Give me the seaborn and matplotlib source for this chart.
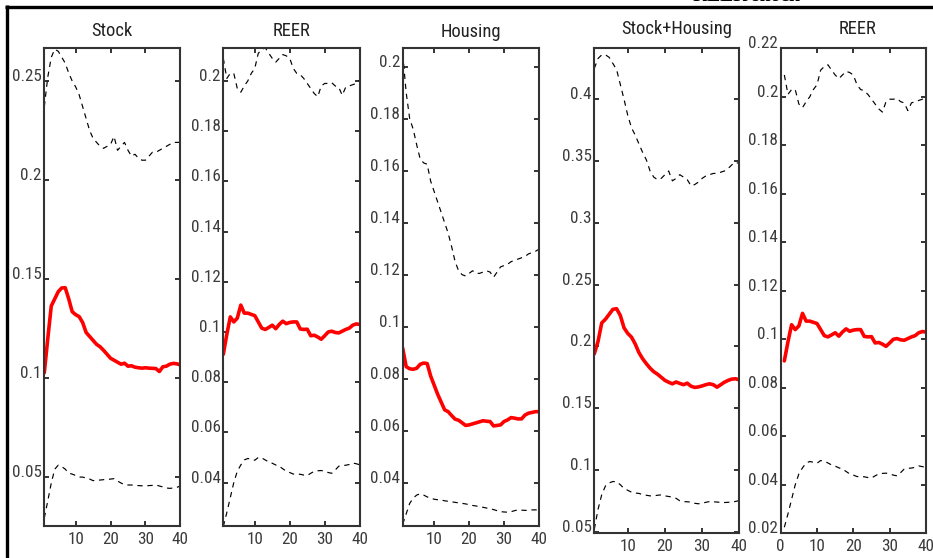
import numpy as np
import pandas as pd
import seaborn as sns
import matplotlib
matplotlib.use("Agg")
import matplotlib.pyplot as plt
from matplotlib import font_manager
from matplotlib.lines import Line2D
from matplotlib.ticker import FuncFormatter, FixedLocator

# ---------------- data: impulse responses over 40 horizons ----------------
horizon = list(range(1, 41))

stock_mid = [0.1027, 0.120, 0.1364, 0.140, 0.1436, 0.1455, 0.1456, 0.140, 0.1335, 0.132,
             0.131, 0.128, 0.123, 0.121, 0.119, 0.117, 0.1158, 0.114, 0.112, 0.110,
             0.109, 0.108, 0.107, 0.1075, 0.106, 0.1062, 0.1055, 0.1052, 0.105, 0.1052,
             0.105, 0.1049, 0.1048, 0.1033, 0.1057, 0.106, 0.107, 0.1074, 0.1072, 0.1066]
stock_hi = [0.237, 0.252, 0.262, 0.266, 0.265, 0.262, 0.259, 0.254, 0.250, 0.247,
            0.243, 0.237, 0.231, 0.225, 0.221, 0.219, 0.217, 0.216, 0.217, 0.218,
            0.222, 0.215, 0.217, 0.219, 0.215, 0.212, 0.213, 0.211, 0.210, 0.210,
            0.212, 0.214, 0.214, 0.215, 0.216, 0.217, 0.218, 0.219, 0.219, 0.219]
stock_lo = [0.0293, 0.038, 0.047, 0.054, 0.056, 0.0553, 0.054, 0.052, 0.0515, 0.0508,
            0.050, 0.050, 0.0495, 0.049, 0.0482, 0.0485, 0.0485, 0.0487, 0.0488, 0.049,
            0.0492, 0.048, 0.047, 0.0462, 0.046, 0.046, 0.0458, 0.0457, 0.0456, 0.0455,
            0.0457, 0.0458, 0.046, 0.0455, 0.045, 0.0445, 0.0443, 0.0445, 0.0448, 0.0455]

reer_mid = [0.0911, 0.099, 0.106, 0.104, 0.1055, 0.1107, 0.1075, 0.1075, 0.107, 0.1065,
            0.104, 0.1015, 0.101, 0.1018, 0.1027, 0.1013, 0.103, 0.1043, 0.1033, 0.1038,
            0.104, 0.104, 0.1012, 0.101, 0.1011, 0.0985, 0.0987, 0.098, 0.0971, 0.0985,
            0.100, 0.1003, 0.0998, 0.0996, 0.1003, 0.101, 0.1015, 0.1027, 0.1032, 0.103]
reer_hi = [0.209, 0.201, 0.203, 0.203, 0.197, 0.1955, 0.198, 0.200, 0.203, 0.205,
           0.211, 0.2125, 0.2132, 0.211, 0.209, 0.2075, 0.209, 0.2105, 0.210, 0.209,
           0.205, 0.203, 0.2025, 0.201, 0.199, 0.197, 0.195, 0.1937, 0.198, 0.199,
           0.199, 0.1993, 0.198, 0.1975, 0.1943, 0.1975, 0.198, 0.1985, 0.199, 0.2004]
reer_lo = [0.0225, 0.028, 0.034, 0.040, 0.0445, 0.047, 0.049, 0.0496, 0.0493, 0.0489,
           0.050, 0.0498, 0.049, 0.0482, 0.0477, 0.047, 0.0465, 0.0455, 0.0445, 0.044,
           0.0434, 0.0434, 0.0433, 0.043, 0.0428, 0.0437, 0.0445, 0.0447, 0.0448, 0.0445,
           0.044, 0.0437, 0.045, 0.0465, 0.0468, 0.0469, 0.0472, 0.0478, 0.0475, 0.0471]

housing_mid = [0.0917, 0.0846, 0.0838, 0.0836, 0.0840, 0.0855, 0.0860, 0.0858, 0.081, 0.0775,
               0.074, 0.071, 0.068, 0.0673, 0.0658, 0.0644, 0.064, 0.063, 0.062, 0.0622,
               0.0626, 0.063, 0.0634, 0.0638, 0.0636, 0.0635, 0.0618, 0.062, 0.0622, 0.0635,
               0.0641, 0.065, 0.0648, 0.0645, 0.0645, 0.066, 0.0667, 0.067, 0.0673, 0.0673]
housing_hi = [0.205, 0.190, 0.180, 0.176, 0.170, 0.1645, 0.163, 0.1625, 0.156, 0.152,
              0.148, 0.144, 0.140, 0.136, 0.1308, 0.125, 0.1215, 0.120, 0.1195, 0.1205,
              0.1215, 0.1205, 0.1205, 0.121, 0.1215, 0.121, 0.119, 0.121, 0.123, 0.1235,
              0.124, 0.125, 0.1255, 0.126, 0.1265, 0.127, 0.128, 0.1285, 0.129, 0.1298]
housing_lo = [0.024, 0.028, 0.032, 0.034, 0.0352, 0.0357, 0.0352, 0.0345, 0.034, 0.0336,
              0.0334, 0.0333, 0.033, 0.0328, 0.0326, 0.0324, 0.0322, 0.032, 0.0318, 0.0315,
              0.0312, 0.031, 0.0307, 0.0305, 0.0302, 0.030, 0.0296, 0.0292, 0.0288, 0.0287,
              0.0286, 0.0288, 0.0292, 0.0295, 0.0294, 0.0293, 0.0294, 0.0295, 0.0295, 0.0295]

sh_mid = [0.194, 0.204, 0.219, 0.222, 0.226, 0.230, 0.2305, 0.225, 0.215, 0.2105,
          0.2075, 0.202, 0.195, 0.190, 0.186, 0.1824, 0.1795, 0.1775, 0.175, 0.1725,
          0.171, 0.1697, 0.1712, 0.170, 0.169, 0.1702, 0.1678, 0.1668, 0.1672, 0.168,
          0.169, 0.1697, 0.169, 0.167, 0.169, 0.171, 0.1725, 0.1735, 0.1738, 0.1729]
sh_hi = [0.425, 0.433, 0.436, 0.436, 0.434, 0.429, 0.424, 0.412, 0.400, 0.387,
         0.377, 0.371, 0.364, 0.357, 0.351, 0.342, 0.337, 0.335, 0.336, 0.339,
         0.342, 0.334, 0.336, 0.339, 0.337, 0.335, 0.330, 0.331, 0.333, 0.336,
         0.338, 0.339, 0.340, 0.340, 0.341, 0.342, 0.344, 0.347, 0.349, 0.348]
sh_lo = [0.052, 0.068, 0.080, 0.087, 0.0895, 0.0906, 0.0905, 0.088, 0.085, 0.0835,
         0.082, 0.0813, 0.081, 0.080, 0.0795, 0.079, 0.079, 0.0795, 0.0798, 0.079,
         0.0785, 0.078, 0.077, 0.075, 0.0744, 0.0742, 0.074, 0.073, 0.0726, 0.073,
         0.0738, 0.0744, 0.0742, 0.074, 0.0737, 0.0736, 0.0738, 0.074, 0.0745, 0.0752]

titles = ["Stock", "REER", "Housing", "Stock+Housing", "REER"]
ytick_values = [
    [0.05, 0.10, 0.15, 0.20, 0.25],
    [0.04, 0.06, 0.08, 0.10, 0.12, 0.14, 0.16, 0.18, 0.20],
    [0.04, 0.06, 0.08, 0.10, 0.12, 0.14, 0.16, 0.18, 0.20],
    [0.05, 0.10, 0.15, 0.20, 0.25, 0.30, 0.35, 0.40],
    [0.02, 0.04, 0.06, 0.08, 0.10, 0.12, 0.14, 0.16, 0.18, 0.20, 0.22],
]
xtick_values = [[10, 20, 30, 40]] * 4 + [[0, 10, 20, 30, 40]]
series = [
    (stock_mid, stock_hi, stock_lo),
    (reer_mid, reer_hi, reer_lo),
    (housing_mid, housing_hi, housing_lo),
    (sh_mid, sh_hi, sh_lo),
    (reer_mid, reer_hi, reer_lo),
]

# ---------------- layout (pixel boxes on a 933x558 canvas) ----------------
W, H = 933, 558
boxes = [  # left, right, top, bottom
    (44.3, 180.3, 48.3, 526.0),
    (223.3, 359.7, 48.3, 526.0),
    (402.7, 539.0, 48.3, 526.0),
    (594.3, 739.3, 48.3, 533.3),
    (780.7, 926.0, 48.3, 533.3),
]
ylims = [(0.0253, 0.2665), (0.0227, 0.2130), (0.0233, 0.2071), (0.0487, 0.4413), (0.02, 0.22)]
xlims = [(1, 40)] * 4 + [(0, 40)]
title_pos = [(112, 36), (291.5, 36), (470.5, 37), (676.5, 34), (858, 34)]

sns.set_style("ticks")

# prefer a narrow sans face for the labels when one is installed
available = {f.name for f in font_manager.fontManager.ttflist}
label_font = "DejaVu Sans"
for cand in ["Liberation Sans Narrow", "Roboto Condensed", "Roboto", "DejaVu Sans"]:
    if cand in available:
        label_font = cand
        break
plt.rcParams["font.family"] = [label_font, "DejaVu Sans"]

AX_COL = "#333333"
TXT_COL = "#3c3c3c"

fig = plt.figure(figsize=(W / 100, H / 100), dpi=100)
fmt = FuncFormatter(lambda v, _: f"{round(v, 4):g}")

for i, ((l, r, t, b), (mid, hi, lo)) in enumerate(zip(boxes, series)):
    ax = fig.add_axes([l / W, 1 - b / H, (r - l) / W, (b - t) / H])
    df = pd.DataFrame({"h": horizon, "mid": mid, "hi": hi, "lo": lo})
    sns.lineplot(data=df, x="h", y="hi", ax=ax, color="black", linewidth=0.85,
                 linestyle=(0, (4.5, 4)))
    sns.lineplot(data=df, x="h", y="lo", ax=ax, color="black", linewidth=0.85,
                 linestyle=(0, (4.5, 4)))
    sns.lineplot(data=df, x="h", y="mid", ax=ax, color="#ff0000", linewidth=2.6)
    ax.set_xlim(*xlims[i])
    ax.set_ylim(*ylims[i])
    ax.xaxis.set_major_locator(FixedLocator(xtick_values[i]))
    ax.yaxis.set_major_locator(FixedLocator(ytick_values[i]))
    ax.yaxis.set_major_formatter(fmt)
    ax.set_xlabel("")
    ax.set_ylabel("")
    for sp in ax.spines.values():
        sp.set_visible(True)
        sp.set_color(AX_COL)
        sp.set_linewidth(1.5)
    ax.tick_params(direction="in", top=True, right=True, length=3.5, width=1.4,
                   color=AX_COL, labelcolor=TXT_COL, labelsize=12.3, pad=2)
    ax.tick_params(axis="x", pad=4)
    for lab in ax.get_yticklabels():
        lab.set_verticalalignment("baseline")
    fig.text(title_pos[i][0] / W, 1 - title_pos[i][1] / H, titles[i],
             ha="center", va="baseline", fontsize=13.3, color="#222222")

# frame around the panel block
fig.add_artist(Line2D([6.5 / W, 6.5 / W], [0, 1 - 5 / H], transform=fig.transFigure,
                      color="black", linewidth=2.4, solid_capstyle="butt"))
fig.add_artist(Line2D([5 / W, 1], [1 - 6.5 / H, 1 - 6.5 / H], transform=fig.transFigure,
                      color="black", linewidth=2.4, solid_capstyle="butt"))
fig.text(746 / W, 1 - 1.0 / H, "REER shock", ha="center", va="baseline",
         fontsize=14, fontweight="bold", family="Liberation Serif", color="black")

fig.savefig("out.png", dpi=100)
